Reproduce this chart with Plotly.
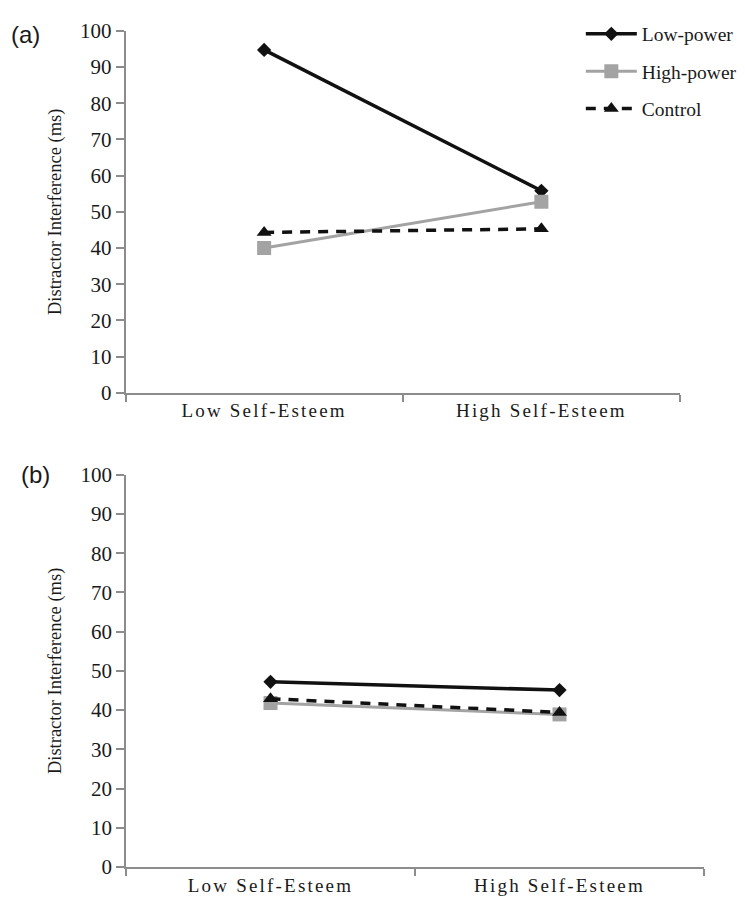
import plotly.graph_objects as go

categories = ["Low Self-Esteem", "High Self-Esteem"]
series_names = ["Low-power", "High-power", "Control"]

a_low_power = [94.7, 55.8]
a_high_power = [40.0, 52.8]
a_control = [44.3, 45.3]

b_low_power = [47.2, 45.1]
b_high_power = [41.8, 38.9]
b_control = [42.9, 39.4]

y_ticks = list(range(0, 101, 10))

W, H = 745, 910
SERIF = "Liberation Serif, Times New Roman, Times, DejaVu Serif, serif"
SANS = "Liberation Sans, Arial, DejaVu Sans, sans-serif"
fig = go.Figure()

styles = {
    "Low-power": dict(line=dict(color="#111111", width=3.5),
                      marker=dict(symbol="diamond", size=11, color="#111111")),
    "High-power": dict(line=dict(color="#a3a3a3", width=3),
                       marker=dict(symbol="square", size=14, color="#a3a3a3")),
    "Control": dict(line=dict(color="#111111", width=3.5, dash="10px,8px"),
                    marker=dict(symbol="triangle-up", size=13, color="#111111")),
}

panel_a = {"Low-power": a_low_power, "High-power": a_high_power, "Control": a_control}
panel_b = {"Low-power": b_low_power, "High-power": b_high_power, "Control": b_control}

for name in series_names:
    fig.add_trace(go.Scatter(x=categories, y=panel_a[name], name=name, mode="lines+markers",
                             xaxis="x", yaxis="y", legendgroup=name, showlegend=True,
                             **styles[name]))
for name in series_names:
    fig.add_trace(go.Scatter(x=categories, y=panel_b[name], name=name, mode="lines+markers",
                             xaxis="x2", yaxis="y2", legendgroup=name, showlegend=False,
                             **styles[name]))

axis_col = "#8c8c8c"
tickfont = dict(family=SERIF, size=21, color="#1a1a1a")

def spaced(t):
    return '<span style="letter-spacing:2.2px">' + t + '</span>'

xcommon = dict(type="category", range=[-0.5, 1.5], showline=True, linecolor=axis_col, linewidth=1.5,
               ticks="outside", tickson="boundaries", ticklen=7, tickcolor=axis_col, tickwidth=1.5,
               showgrid=False, zeroline=False, tickvals=categories,
               ticktext=[spaced(c) for c in categories],
               tickfont=dict(family=SERIF, size=19, color="#1a1a1a"))
ycommon = dict(range=[0, 100], tickvals=y_ticks, showline=True, linecolor=axis_col, linewidth=1.5,
               ticks="outside", ticklen=8, tickcolor=axis_col, tickwidth=1.5,
               showgrid=False, zeroline=False, tickfont=tickfont,
               title=dict(text="Distractor Interference (ms)",
                          font=dict(family=SERIF, size=18.5, color="#1a1a1a"),
                          standoff=14))

fig.update_layout(
    width=W, height=H,
    margin=dict(l=0, r=0, t=0, b=0),
    paper_bgcolor="white", plot_bgcolor="white",
    showlegend=True,
    xaxis=dict(domain=[117.5 / W, 672 / W], anchor="y", **xcommon),
    yaxis=dict(domain=[(H - 383) / H, (H - 11) / H], anchor="x", **ycommon),
    xaxis2=dict(domain=[118 / W, 696 / W], anchor="y2", **xcommon),
    yaxis2=dict(domain=[(H - 870) / H, (H - 467) / H], anchor="x2", **ycommon),
    legend=dict(x=0.985, y=1.006, xanchor="right", yanchor="top", itemwidth=51,
                font=dict(family=SERIF, size=19.5, color="#1a1a1a"),
                tracegroupgap=9, bgcolor="rgba(0,0,0,0)"),
    annotations=[
        dict(text="(a)", x=1 / W, y=(H - 15) / H, xref="paper", yref="paper",
             xanchor="left", yanchor="middle", showarrow=False,
             font=dict(family=SANS, size=24, color="#1a1a1a")),
        dict(text="(b)", x=11 / W, y=(H - 467) / H, xref="paper", yref="paper",
             xanchor="left", yanchor="middle", showarrow=False,
             font=dict(family=SANS, size=24, color="#1a1a1a")),
    ],
)

fig.write_html("out.html")
